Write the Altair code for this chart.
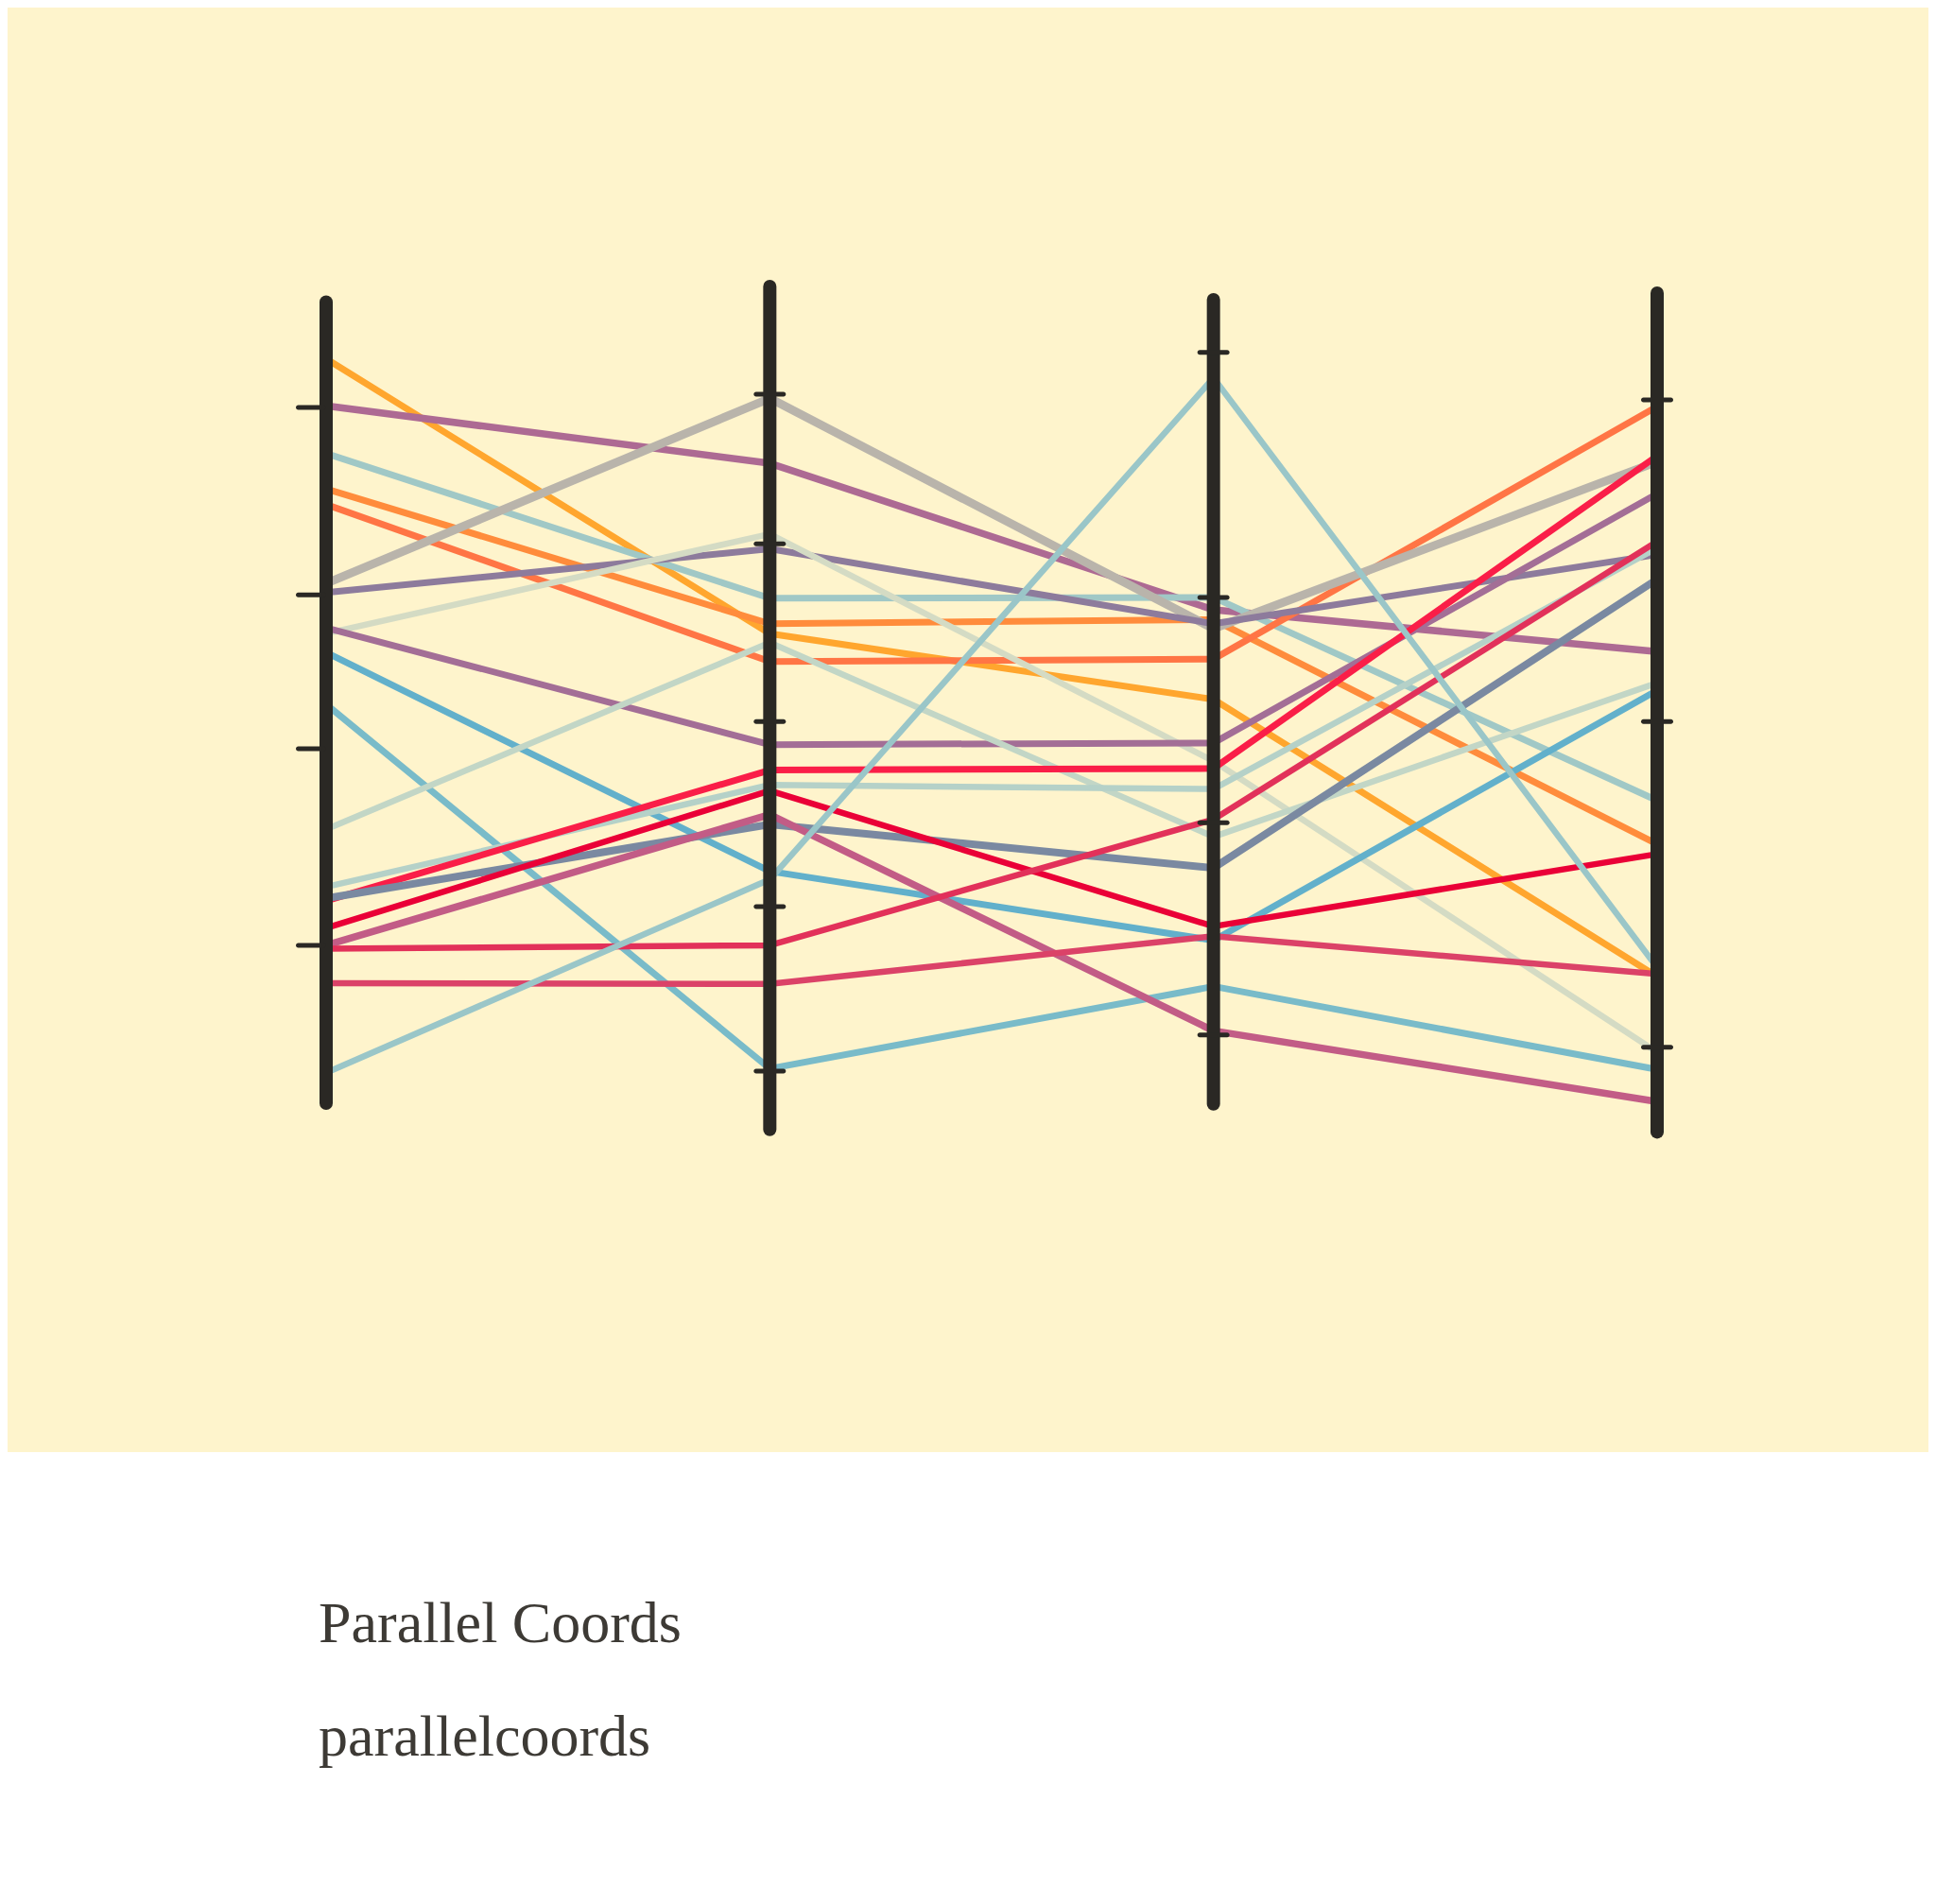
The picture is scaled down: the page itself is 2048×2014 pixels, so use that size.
import altair as alt
import pandas as pd

# ---- data (common 0-100 scale) ----
dims = ["d1", "d2", "d3", "d4"]
series_ids = ["s01", "s02", "s03", "s04", "s05", "s06", "s07", "s08", "s09", "s10",
              "s11", "s12", "s13", "s14", "s15", "s16", "s17", "s18", "s19", "s20"]
series_colors = ["#FFA62E", "#AD6A93", "#A0C8C6", "#FF8C3C", "#FF7545", "#B9B4AB",
                 "#8D7B9C", "#D4DBC4", "#A36E96", "#62B0CB", "#79BBC9", "#C2D6C6",
                 "#B5D1C8", "#FA1E48", "#7A89A1", "#EA0037", "#C25C86", "#E2315A",
                 "#DB4268", "#9AC6C8"]
series_values = [
    [92.0, 58.6, 50.6, 16.9],
    [86.3, 79.3, 61.5, 56.4],
    [80.5, 62.9, 63.0, 38.3],
    [76.2, 59.8, 60.3, 33.0],
    [74.3, 55.2, 55.5, 86.2],
    [64.7, 87.2, 59.2, 79.5],
    [63.6, 68.9, 59.8, 68.2],
    [58.6, 70.7, 43.1, 7.7],
    [59.3, 45.1, 45.3, 75.6],
    [56.3, 29.7, 21.3, 51.7],
    [50.0, 5.7, 15.7, 5.6],
    [34.8, 57.5, 33.9, 52.6],
    [27.8, 40.2, 39.7, 69.0],
    [26.1, 42.0, 42.2, 80.2],
    [26.4, 35.4, 30.1, 65.2],
    [22.8, 39.5, 23.0, 31.8],
    [20.7, 36.6, 10.3, 1.7],
    [20.3, 20.7, 36.0, 69.8],
    [16.1, 16.0, 21.8, 17.2],
    [5.2, 28.7, 89.7, 18.0],
]
series_widths = [7, 7.5, 7, 7, 7, 9, 7, 6.5, 7, 7, 7, 6.5, 6.5, 7, 8, 6.5, 7.5, 6.5, 6.5, 6.5]

axis_top = [98.9, 100.8, 99.2, 100.0]
axis_bottom = [1.5, -1.7, 1.4, -2.0]
tick_values = [
    [86.1, 63.3, 44.6, 20.7],
    [87.7, 69.5, 47.9, 25.4, 5.4],
    [92.8, 63.0, 35.6, 9.8],
    [87.0, 47.9, 8.3],
]
title_text = "Parallel Coords"
subtitle_text = "parallelcoords"

# ---- tables ----
rows = []
for sid, vals, w in zip(series_ids, series_values, series_widths):
    for i, (d, v) in enumerate(zip(dims, vals)):
        rows.append({"id": sid, "dim": d, "order": i, "value": v, "w": w})
lines_df = pd.DataFrame(rows)
axes_df = pd.DataFrame({"dim": dims, "top": axis_top, "bottom": axis_bottom})
ticks_df = pd.DataFrame([{"dim": d, "value": v} for d, tv in zip(dims, tick_values) for v in tv])

W, H = 2032, 1998
xscale = alt.Scale(type="point", domain=dims, range=[337, 1745], padding=0)
yscale = alt.Scale(domain=[0, 100], range=[1172, 302])
AX = "#2A2824"

bg = alt.Chart(pd.DataFrame({"k": [0]})).mark_rect(color="#FEF4CC").encode(
    x=alt.value(0), x2=alt.value(W), y=alt.value(0), y2=alt.value(1528)
)

lines = alt.Chart(lines_df).mark_line(strokeCap="round", strokeJoin="round", opacity=1).encode(
    x=alt.X("dim:N", scale=xscale, axis=None),
    y=alt.Y("value:Q", scale=yscale, axis=None),
    color=alt.Color("id:N", scale=alt.Scale(domain=series_ids, range=series_colors), legend=None),
    strokeWidth=alt.StrokeWidth("w:Q", scale=None, legend=None),
    detail="id:N",
    order="order:Q",
)

axes = alt.Chart(axes_df).mark_rule(color=AX, strokeWidth=14, strokeCap="round").encode(
    x=alt.X("dim:N", scale=xscale, axis=None),
    y=alt.Y("top:Q", scale=yscale, axis=None),
    y2="bottom:Q",
)

ticks_first = alt.Chart(ticks_df[ticks_df["dim"] == "d1"]).mark_tick(
    color=AX, size=32, thickness=5, xOffset=-16, cornerRadius=2.5, opacity=1
).encode(
    x=alt.X("dim:N", scale=xscale, axis=None),
    y=alt.Y("value:Q", scale=yscale, axis=None),
)
ticks_rest = alt.Chart(ticks_df[ticks_df["dim"] != "d1"]).mark_tick(
    color=AX, size=34, thickness=5, cornerRadius=2.5, opacity=1
).encode(
    x=alt.X("dim:N", scale=xscale, axis=None),
    y=alt.Y("value:Q", scale=yscale, axis=None),
)

title = alt.Chart(pd.DataFrame({"t": [title_text]})).mark_text(
    align="left", baseline="alphabetic", font="Liberation Serif", fontSize=62, color="#3D3A35"
).encode(x=alt.value(329), y=alt.value(1729), text="t:N")
subtitle = alt.Chart(pd.DataFrame({"t": [subtitle_text]})).mark_text(
    align="left", baseline="alphabetic", font="Liberation Serif", fontSize=62, color="#3D3A35"
).encode(x=alt.value(329), y=alt.value(1849), text="t:N")

chart = alt.layer(bg, lines, axes, ticks_first, ticks_rest, title, subtitle).properties(
    width=W, height=H, autosize=alt.AutoSizeParams(type="none"), padding=0, background="white"
).configure_view(stroke=None)

chart.save("out.html", embed_options={"renderer": "svg", "actions": False})
